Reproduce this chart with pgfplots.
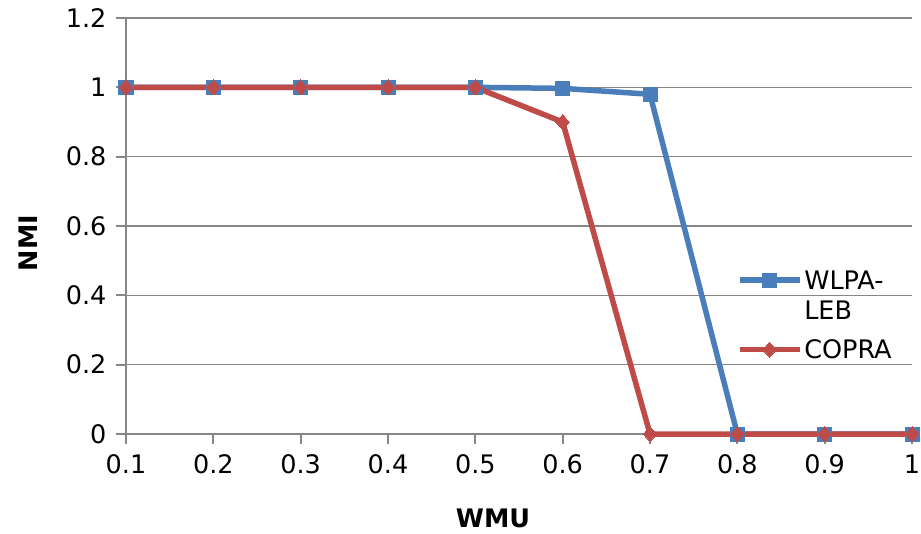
\documentclass[border=0pt]{standalone}
\usepackage{pgfplots}
\pgfplotsset{compat=1.18}
\usepackage{fontspec}
\setmainfont{DejaVu Sans}
\definecolor{wblue}{HTML}{4A7EBB}
\definecolor{cred}{HTML}{BE4B48}
\definecolor{gridgray}{HTML}{878787}
\begin{document}
\begin{tikzpicture}
\begin{axis}[name=ax, scale only axis, width=786pt, height=416pt,
  xmin=0.1, xmax=1, ymin=0, ymax=1.2, clip=false,
  axis x line=bottom, axis y line=left,
  axis line style={gridgray,-,line width=2pt},
  xtick={0.1,0.2,0.3,0.4,0.5,0.6,0.7,0.8,0.9,1},
  ytick={0,0.2,0.4,0.6,0.8,1,1.2},
  ymajorgrids, grid style={gridgray,line width=1.6pt},
  tick align=outside, major tick length=10pt,
  tick style={gridgray,line width=2pt},
  font=\fontsize{25.5}{30}\selectfont,
  ticklabel style={font=\fontsize{25.5}{30}\selectfont},
  xticklabel style={yshift=-7pt},
  yticklabel style={xshift=-6pt},
  /pgf/number format/assume math mode=true,
  xlabel={\textbf{WMU}}, ylabel={\textbf{NMI}},
  xlabel style={at={(axis description cs:0.467,-0.2019)},anchor=center},
  ylabel style={at={(axis description cs:-0.1247,0.459)},anchor=center},
  legend style={at={(axis description cs:0.773,0.407)},anchor=north west,
    draw=none, fill=none, font=\fontsize{25.5}{30}\selectfont, row sep=44pt},
  legend cell align=left,
  legend image code/.code={\draw[mark repeat=2,mark phase=2] plot coordinates {(0pt,0pt) (30pt,0pt) (60pt,0pt)};},
]
\addplot[color=wblue, line width=5.5pt, mark=square*, mark size=7pt, mark options={line width=0pt}]
  coordinates {(0.1,1)(0.2,1)(0.3,1)(0.4,1)(0.5,1)(0.6,0.997)(0.7,0.98)(0.8,0)(0.9,0)(1,0)};
\addlegendentry{\begin{tabular}[t]{@{}l@{}}WLPA-\\LEB\end{tabular}}
\addplot[color=cred, line width=5.5pt, mark=diamond*, mark size=7.5pt, mark options={line width=0pt, xscale=1.2}]
  coordinates {(0.1,1)(0.2,1)(0.3,1)(0.4,1)(0.5,1)(0.6,0.9)(0.7,0)(0.8,0)(0.9,0)(1,0)};
\addlegendentry{COPRA}
\end{axis}
\pgfresetboundingbox
\path[use as bounding box] ([shift={(-126pt,-99pt)}]ax.south west) rectangle ([shift={(9pt,18pt)}]ax.north east);
\end{tikzpicture}
\end{document}
